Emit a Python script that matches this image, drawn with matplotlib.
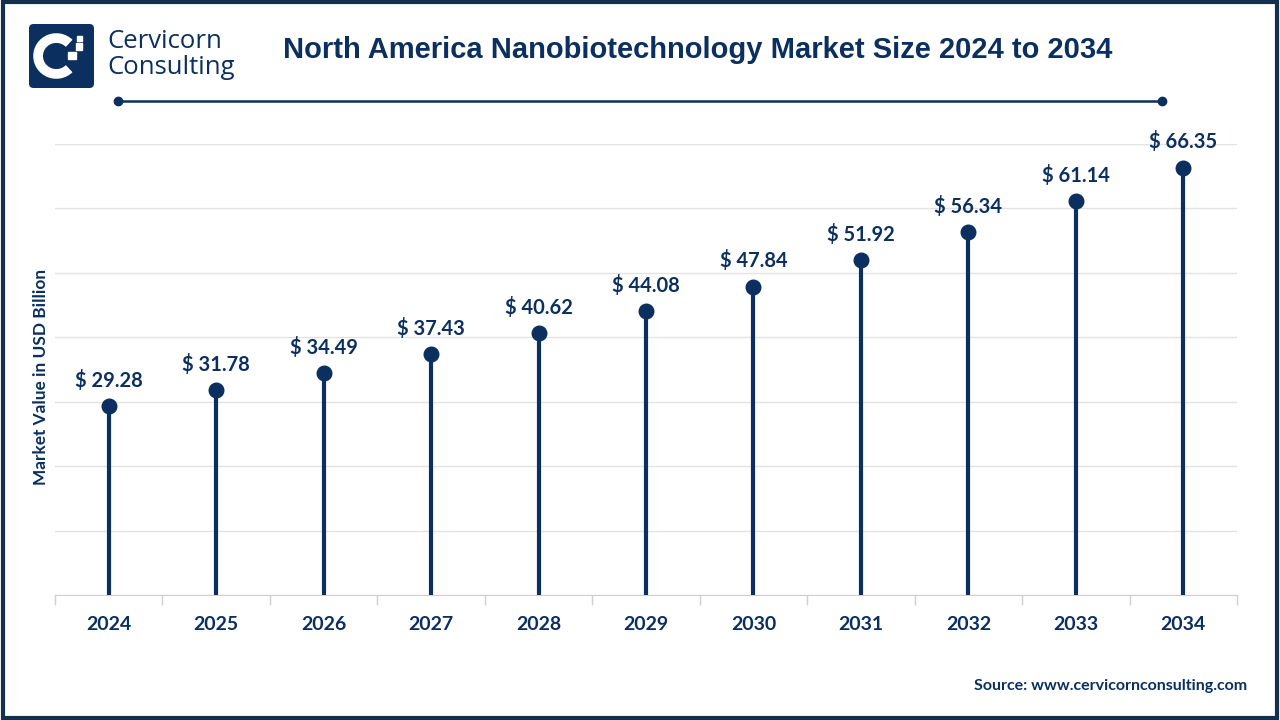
import matplotlib.pyplot as plt
from matplotlib.patches import FancyBboxPatch, Rectangle, Arc

years = ["2024", "2025", "2026", "2027", "2028", "2029", "2030", "2031", "2032", "2033", "2034"]
values = [29.28, 31.78, 34.49, 37.43, 40.62, 44.08, 47.84, 51.92, 56.34, 61.14, 66.35]

navy = "#0b2f5e"
label_font = ["Lato", "DejaVu Sans"]

fig = plt.figure(figsize=(12.8, 7.2), dpi=100)
ax = fig.add_axes([55 / 1280, 1 - 595 / 720, 1182 / 1280, 451 / 720])

x = list(range(len(years)))
ax.vlines(x, 0, values, color=navy, lw=3, zorder=3)
ax.scatter(x, values, s=110, color=navy, zorder=4)
for xi, v in zip(x, values):
    ax.annotate(f"$ {v:.2f}", (xi, v), xytext=(0, 11), textcoords="offset points",
                ha="center", va="bottom", fontsize=14.5, fontweight="bold",
                color=navy, family=label_font)

ax.set_xlim(-0.5, len(years) - 0.5)
ax.set_ylim(0, 70)
ax.set_yticks(range(0, 71, 10))
ax.yaxis.grid(True, color="#e3e3e3", lw=1)
ax.set_axisbelow(True)
ax.tick_params(axis="y", length=0, labelleft=False)
ax.set_xticks(x)
ax.set_xticklabels(years, fontsize=14, fontweight="bold", color=navy, family=label_font)
ax.tick_params(axis="x", length=0, pad=15)
ax.set_xticks([i - 0.5 for i in range(len(years) + 1)], minor=True)
ax.tick_params(axis="x", which="minor", length=7, color="#d0d0d0", width=1)
for s in ["top", "right", "left"]:
    ax.spines[s].set_visible(False)
ax.spines["bottom"].set_color("#d0d0d0")
ax.set_ylabel("Market Value in USD Billion", fontsize=12.4, fontweight="bold",
              color=navy, family=label_font, labelpad=0)
ax.yaxis.set_label_coords(-6 / 1182, 0.483)

# outer frame
fig.patches.append(Rectangle((0.002, 0.003), 0.996, 0.994, transform=fig.transFigure,
                             fill=False, edgecolor="#13304f", lw=3))

# title and decorative line
fig.text(698 / 1280, 1 - 50 / 720, "North America Nanobiotechnology Market Size 2024 to 2034",
         ha="center", va="center", fontsize=21, fontweight="bold", color=navy,
         family="Liberation Sans")
fig.add_artist(plt.Line2D([118 / 1280, 1162 / 1280], [1 - 101 / 720] * 2,
                          transform=fig.transFigure, color=navy, lw=1.8,
                          marker="o", markersize=6, markevery=[0, 1]))

# logo
lax = fig.add_axes([29 / 1280, 1 - 88 / 720, 65 / 1280, 64 / 720], zorder=5)
lax.set_xlim(0, 1)
lax.set_ylim(0, 1)
lax.axis("off")
lax.add_patch(FancyBboxPatch((0, 0), 1, 1, boxstyle="round,pad=0,rounding_size=0.07",
                             facecolor=navy, edgecolor="none"))
lax.add_patch(Arc((0.42, 0.5), 0.56, 0.56, theta1=45, theta2=315, color="white", lw=7))
lax.add_patch(Rectangle((0.60, 0.45), 0.12, 0.12, color="white"))
lax.add_patch(Rectangle((0.72, 0.60), 0.1, 0.1, color="white"))
lax.add_patch(Rectangle((0.74, 0.74), 0.07, 0.07, color="white"))
fig.text(107 / 1280, 1 - 42 / 720, "Cervicorn", fontsize=18.5, color=navy, va="center",
         family="Open Sans")
fig.text(107 / 1280, 1 - 67 / 720, "Consulting", fontsize=18.5, color=navy, va="center",
         family="Open Sans")

fig.text(1247 / 1280, 1 - 686 / 720, "Source: www.cervicornconsulting.com", ha="right",
         va="center", fontsize=11.5, fontweight="bold", color=navy, family=label_font)

fig.savefig("out.png", dpi=100)
